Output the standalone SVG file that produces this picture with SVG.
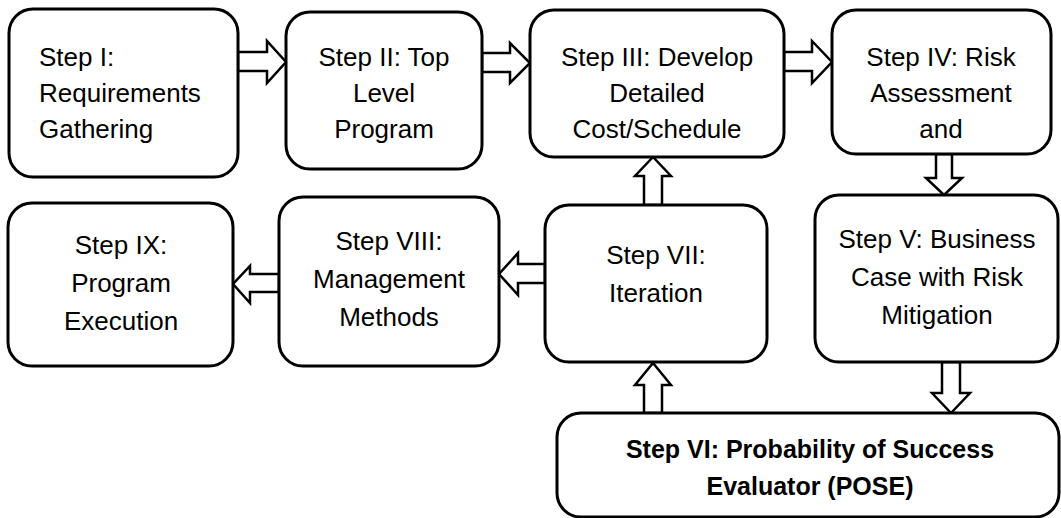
<svg xmlns="http://www.w3.org/2000/svg" width="1061" height="518" viewBox="0 0 1061 518">
  <style>
    .box { fill: #ffffff; stroke: #000000; stroke-width: 3; }
    .arrow { fill: #ffffff; stroke: #000000; stroke-width: 2.5; stroke-linejoin: miter; }
    .lbl { font-family: "Liberation Sans", Arial, sans-serif; font-size: 26px; fill: #000000; text-anchor: middle; }
    .left { text-anchor: start; }
    .bold { font-weight: bold; font-size: 25px; }
  </style>
  <rect width="1061" height="518" fill="#ffffff"/>

  <!-- block arrows between the steps -->
  <g id="connectors">
    <!-- I -> II -->
    <polygon class="arrow" points="238,52 267,52 267,41 286,62 267,83 267,71 238,71"/>
    <!-- II -> III -->
    <polygon class="arrow" points="482,53 510,53 510,43 530,63 510,83 510,72 482,72"/>
    <!-- III -> IV -->
    <polygon class="arrow" points="784,52 812,52 812,41 832,62 812,83 812,71 784,71"/>
    <!-- IV -> V -->
    <polygon class="arrow" points="936,154 936,178 926,178 944,195 962,178 952,178 952,154"/>
    <!-- V -> VI -->
    <polygon class="arrow" points="942,362 942,393 932,393 951,413 970,393 960,393 960,362"/>
    <!-- VI -> VII -->
    <polygon class="arrow" points="644,413 644,385 635,385 653,363 671,385 662,385 662,413"/>
    <!-- VII -> III -->
    <polygon class="arrow" points="644,205 644,176 635,176 653,157 671,176 662,176 662,205"/>
    <!-- VII -> VIII -->
    <polygon class="arrow" points="545,264 518,264 518,253 499,274 518,295 518,283 545,283"/>
    <!-- VIII -> IX -->
    <polygon class="arrow" points="279,274 250,274 250,266 233,284 250,303 250,292 279,292"/>
  </g>

  <g id="step1">
    <rect class="box" x="9" y="9" width="229" height="168" rx="24"/>
    <text class="lbl left" x="39" y="66">Step I:</text>
    <text class="lbl left" x="39" y="102">Requirements</text>
    <text class="lbl left" x="39" y="138">Gathering</text>
  </g>

  <g id="step2">
    <rect class="box" x="286" y="12" width="196" height="157" rx="24"/>
    <text class="lbl" x="384" y="66">Step II: Top</text>
    <text class="lbl" x="384" y="102">Level</text>
    <text class="lbl" x="384" y="138">Program</text>
  </g>

  <g id="step3">
    <rect class="box" x="530" y="10" width="254" height="147" rx="24"/>
    <text class="lbl" x="657" y="66">Step III: Develop</text>
    <text class="lbl" x="657" y="102">Detailed</text>
    <text class="lbl" x="657" y="138">Cost/Schedule</text>
  </g>

  <g id="step4">
    <rect class="box" x="832" y="10" width="219" height="144" rx="24"/>
    <text class="lbl" x="941" y="66">Step IV: Risk</text>
    <text class="lbl" x="941" y="102">Assessment</text>
    <text class="lbl" x="941" y="138">and</text>
  </g>

  <g id="step5">
    <rect class="box" x="815" y="195" width="243" height="167" rx="24"/>
    <text class="lbl" x="937" y="248">Step V: Business</text>
    <text class="lbl" x="937" y="286">Case with Risk</text>
    <text class="lbl" x="937" y="324">Mitigation</text>
  </g>

  <g id="step6">
    <rect class="box" x="557" y="413" width="502" height="104" rx="24"/>
    <text class="lbl bold" x="810" y="458">Step VI: Probability of Success</text>
    <text class="lbl bold" x="810" y="495">Evaluator (POSE)</text>
  </g>

  <g id="step7">
    <rect class="box" x="545" y="205" width="222" height="157" rx="24"/>
    <text class="lbl" x="656" y="264">Step VII:</text>
    <text class="lbl" x="656" y="302">Iteration</text>
  </g>

  <g id="step8">
    <rect class="box" x="279" y="197" width="220" height="169" rx="24"/>
    <text class="lbl" x="389" y="250">Step VIII:</text>
    <text class="lbl" x="389" y="288">Management</text>
    <text class="lbl" x="389" y="326">Methods</text>
  </g>

  <g id="step9">
    <rect class="box" x="8" y="203" width="225" height="163" rx="24"/>
    <text class="lbl" x="121" y="254">Step IX:</text>
    <text class="lbl" x="121" y="292">Program</text>
    <text class="lbl" x="121" y="330">Execution</text>
  </g>
</svg>
